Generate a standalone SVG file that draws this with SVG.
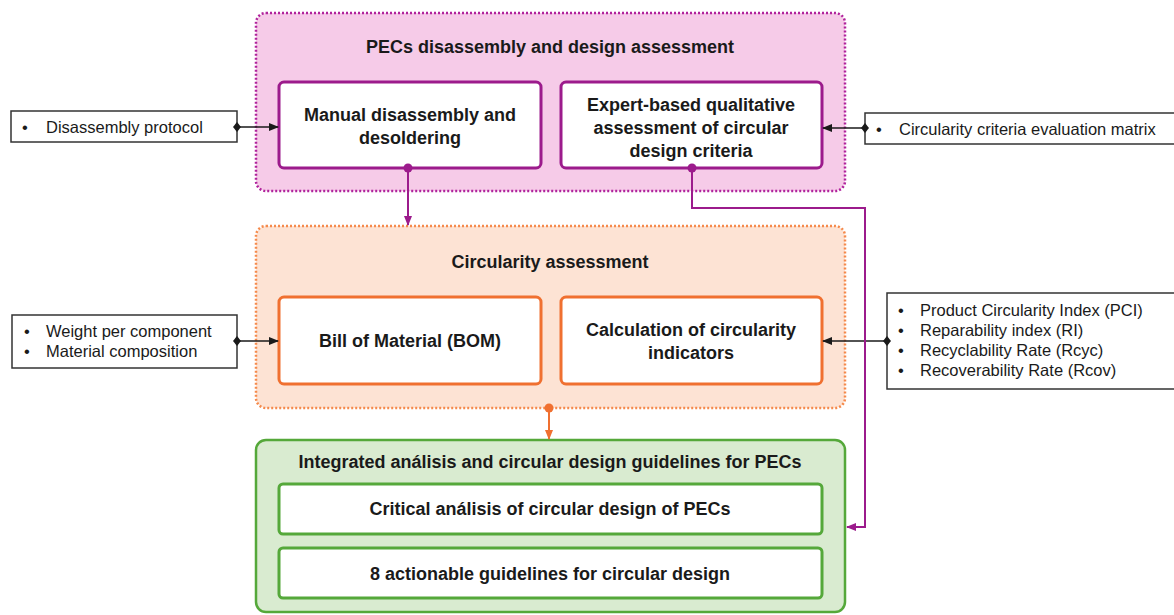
<svg xmlns="http://www.w3.org/2000/svg" width="1174" height="615" viewBox="0 0 1174 615">
<defs>
<style>
.t{font-family:"Liberation Sans",Arial,sans-serif;font-weight:bold;font-size:18px;fill:#1a1a1a;text-anchor:middle}
.s{font-family:"Liberation Sans",Arial,sans-serif;font-size:16.5px;fill:#1a1a1a}
.side{fill:#fff;stroke:#333;stroke-width:1.5}
.pinkbox{fill:#fff;stroke:#9c1b8c;stroke-width:3}
.orbox{fill:#fff;stroke:#f07030;stroke-width:3}
.grbox{fill:#fff;stroke:#55a83a;stroke-width:3}
</style>
<marker id="ak" viewBox="0 0 10 10" refX="9" refY="5" markerWidth="10" markerHeight="10" markerUnits="userSpaceOnUse" orient="auto"><path d="M0,1 L10,5 L0,9 z" fill="#1a1a1a"/></marker>
<marker id="am" viewBox="0 0 10 10" refX="9" refY="5" markerWidth="10" markerHeight="10" markerUnits="userSpaceOnUse" orient="auto"><path d="M0,1 L10,5 L0,9 z" fill="#9c1b8c"/></marker>
<marker id="ao" viewBox="0 0 10 10" refX="9" refY="5" markerWidth="10" markerHeight="10" markerUnits="userSpaceOnUse" orient="auto"><path d="M0,1 L10,5 L0,9 z" fill="#f07030"/></marker>
</defs>
<rect width="1174" height="615" fill="#fff"/>

<g id="pink-container">
<rect x="256" y="13" width="589" height="178" rx="10" fill="#f6cbe8" stroke="#b0239c" stroke-width="2.5" stroke-dasharray="2 2"/>
<text class="t" x="550" y="53">PECs disassembly and design assessment</text>
</g>
<g id="manual">
<rect class="pinkbox" x="279" y="82" width="262" height="86" rx="5"/>
<text class="t" x="410" y="121">Manual disassembly and</text>
<text class="t" x="410" y="144">desoldering</text>
</g>
<g id="expert">
<rect class="pinkbox" x="561" y="82" width="261" height="86" rx="5"/>
<text class="t" x="691" y="111">Expert-based qualitative</text>
<text class="t" x="691" y="134">assessment of circular</text>
<text class="t" x="691" y="157">design criteria</text>
</g>

<g id="orange-container">
<rect x="256" y="226" width="589" height="182" rx="10" fill="#fde3d4" stroke="#f58a4c" stroke-width="2.5" stroke-dasharray="2 2"/>
<text class="t" x="550" y="268">Circularity assessment</text>
</g>
<g id="bom">
<rect class="orbox" x="279" y="297" width="262" height="87" rx="5"/>
<text class="t" x="410" y="347">Bill of Material (BOM)</text>
</g>
<g id="calc">
<rect class="orbox" x="561" y="297" width="261" height="87" rx="5"/>
<text class="t" x="691" y="336">Calculation of circularity</text>
<text class="t" x="691" y="359">indicators</text>
</g>

<g id="green-container">
<rect x="256" y="440" width="589" height="172" rx="10" fill="#d9ebd0" stroke="#55a83a" stroke-width="2.5"/>
<text class="t" x="550" y="468">Integrated análisis and circular design guidelines for PECs</text>
</g>
<g id="critical">
<rect class="grbox" x="279" y="484" width="543" height="50" rx="4"/>
<text class="t" x="550" y="515">Critical análisis of circular design of PECs</text>
</g>
<g id="guidelines">
<rect class="grbox" x="279" y="548" width="543" height="50" rx="4"/>
<text class="t" x="550" y="580">8 actionable guidelines for circular design</text>
</g>

<g id="disassembly-protocol">
<rect class="side" x="11" y="111" width="226" height="31"/>
<text class="s" x="22" y="133">•</text>
<text class="s" x="46" y="133">Disassembly protocol</text>
</g>
<g id="criteria-matrix">
<rect class="side" x="865" y="113" width="312" height="31"/>
<text class="s" x="876" y="135">•</text>
<text class="s" x="899" y="135">Circularity criteria evaluation matrix</text>
</g>
<g id="weight">
<rect class="side" x="12" y="315" width="225" height="53"/>
<text class="s" x="24" y="337">•</text>
<text class="s" x="46" y="337">Weight per component</text>
<text class="s" x="24" y="357">•</text>
<text class="s" x="46" y="357">Material composition</text>
</g>
<g id="indicators">
<rect class="side" x="887" y="293" width="290" height="96"/>
<text class="s" x="898" y="316">•</text>
<text class="s" x="920" y="316">Product Circularity Index (PCI)</text>
<text class="s" x="898" y="336">•</text>
<text class="s" x="920" y="336">Reparability index (RI)</text>
<text class="s" x="898" y="356">•</text>
<text class="s" x="920" y="356">Recyclability Rate (Rcyc)</text>
<text class="s" x="898" y="376">•</text>
<text class="s" x="920" y="376">Recoverability Rate (Rcov)</text>
</g>

<g id="connectors" fill="none">
<path d="M237,127 L278,127" stroke="#1a1a1a" stroke-width="1.5" marker-end="url(#ak)"/>
<path d="M865,128 L823,128" stroke="#1a1a1a" stroke-width="1.5" marker-end="url(#ak)"/>
<path d="M237,341 L278,341" stroke="#1a1a1a" stroke-width="1.5" marker-end="url(#ak)"/>
<path d="M887,341 L823,341" stroke="#1a1a1a" stroke-width="1.5" marker-end="url(#ak)"/>
<path d="M408,168 L408,225" stroke="#9c1b8c" stroke-width="2" marker-end="url(#am)"/>
<path d="M692,168 L692,208 L865,208 L865,527 L847,527" stroke="#9c1b8c" stroke-width="2" marker-end="url(#am)"/>
<path d="M549,408 L549,439" stroke="#f07030" stroke-width="2" marker-end="url(#ao)"/>
<g stroke="none">
<path d="M237,122 L241,127 L237,132 L233,127 z" fill="#1a1a1a"/>
<path d="M865,123 L869,128 L865,133 L861,128 z" fill="#1a1a1a"/>
<path d="M237,336 L241,341 L237,346 L233,341 z" fill="#1a1a1a"/>
<path d="M887,336 L891,341 L887,346 L883,341 z" fill="#1a1a1a"/>
<circle cx="408" cy="168" r="4.5" fill="#9c1b8c"/>
<circle cx="692" cy="168" r="4.5" fill="#9c1b8c"/>
<circle cx="549" cy="408" r="4.5" fill="#f07030"/>
</g>
</g>
</svg>
